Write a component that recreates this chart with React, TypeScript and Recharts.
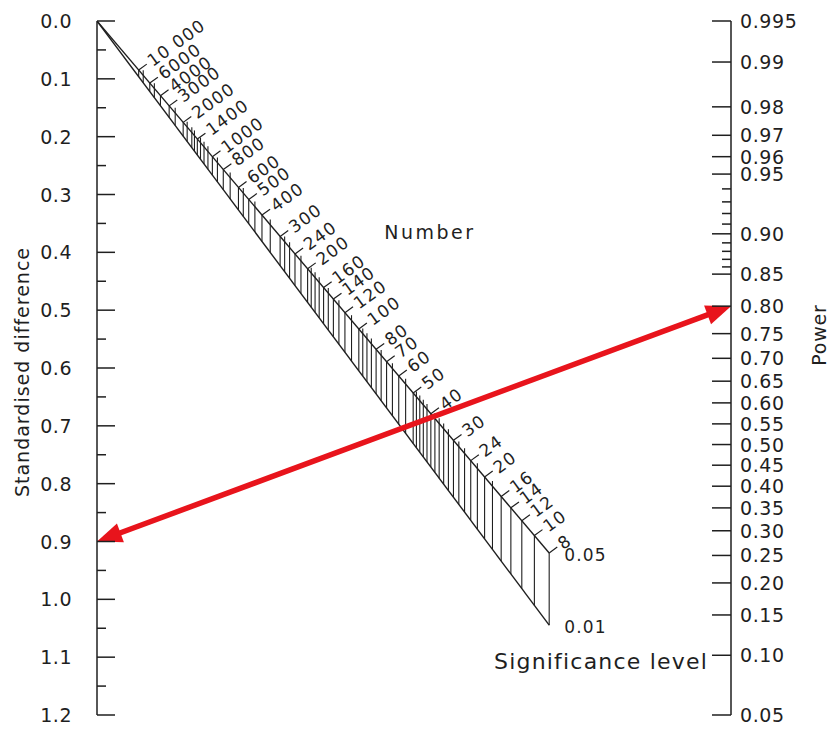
import { ComposedChart, XAxis, YAxis, Line, Scatter, ReferenceLine } from "recharts";

// ─── Data ────────────────────────────────────────────────────────────────────
// left scale: standardised difference
const DELTA_TICKS = [
  0, 0.05, 0.1, 0.15, 0.2, 0.25, 0.3, 0.35, 0.4, 0.45, 0.5, 0.55, 0.6,
  0.65, 0.7, 0.75, 0.8, 0.85, 0.9, 0.95, 1.0, 1.05, 1.1, 1.15, 1.2,
];

// right scale: power (probit spaced)
const POWER_TICKS = [
  "0.995", "0.99", "0.98", "0.97", "0.96", "0.95", "0.94", "0.93", "0.92", "0.91",
  "0.90", "0.89", "0.88", "0.87", "0.86", "0.85", "0.80", "0.75", "0.70", "0.65",
  "0.60", "0.55", "0.50", "0.45", "0.40", "0.35", "0.30", "0.25", "0.20", "0.15",
  "0.10", "0.05",
];
const POWER_MINOR = ["0.94", "0.93", "0.92", "0.91", "0.89", "0.88", "0.87", "0.86"];

// middle scale: total sample size
const N_LABELS = [
  "10 000", "6000", "4000", "3000", "2000", "1400", "1000", "800", "600", "500",
  "400", "300", "240", "200", "160", "140", "120", "100", "80", "70", "60", "50",
  "40", "30", "24", "20", "16", "14", "12", "10", "8",
];
const N_HATCH = [
  10000, 8000, 6000, 5000, 4000, 3000, 2500, 2000, 1800, 1600, 1500, 1400, 1300,
  1200, 1100, 1000, 900, 800, 700, 600, 550, 500, 450, 400, 350, 300, 280, 260,
  240, 220, 200, 190, 180, 170, 160, 150, 140, 130, 120, 110, 100, 95, 90, 85, 80,
  75, 70, 65, 60, 55, 50, 48, 46, 44, 42, 40, 38, 36, 34, 32, 30, 28, 26, 24, 22,
  20, 18, 16, 14, 12, 10, 8,
];
const ALPHA_LEVELS = ["0.05", "0.01"];
const N_MIN = 8;

// worked example drawn as the red arrow
const EXAMPLE_DELTA = 0.9;
const EXAMPLE_POWER = 0.8;

// ─── Styling ─────────────────────────────────────────────────────────────────
const INK = "#1f1f1f";
const RED = "#e8141c";
const FONT = '"DejaVu Sans", Verdana, sans-serif';

// ─── Nomogram scales ─────────────────────────────────────────────────────────
// inverse normal cdf (Acklam)
function probit(p: number): number {
  const a = [-39.69683028665376, 220.9460984245205, -275.9285104469687, 138.357751867269, -30.66479806614716, 2.506628277459239];
  const b = [-54.47609879822406, 161.5858368580409, -155.6989798598866, 66.80131188771972, -13.28068155288572];
  const c = [-0.007784894002430293, -0.3223964580411365, -2.400758277161838, -2.549732539343734, 4.374664141464968, 2.938163982698783];
  const d = [0.007784695709041462, 0.3224671290700398, 2.445134137142996, 3.754408661907416];
  const lo = 0.02425;
  if (p < lo) {
    const q = Math.sqrt(-2 * Math.log(p));
    return (((((c[0] * q + c[1]) * q + c[2]) * q + c[3]) * q + c[4]) * q + c[5]) / ((((d[0] * q + d[1]) * q + d[2]) * q + d[3]) * q + 1);
  }
  if (p > 1 - lo) {
    const q = Math.sqrt(-2 * Math.log(1 - p));
    return -(((((c[0] * q + c[1]) * q + c[2]) * q + c[3]) * q + c[4]) * q + c[5]) / ((((d[0] * q + d[1]) * q + d[2]) * q + d[3]) * q + 1);
  }
  const q = p - 0.5;
  const r = q * q;
  return ((((((a[0] * r + a[1]) * r + a[2]) * r + a[3]) * r + a[4]) * r + a[5]) * q) / (((((b[0] * r + b[1]) * r + b[2]) * r + b[3]) * r + b[4]) * r + 1);
}

const DELTA_MAX = 1.2;
const Z_TOP = probit(0.995);
const Z_BOT = probit(0.05);
const RATIO = DELTA_MAX / (Z_TOP - Z_BOT); // delta units per z unit

const zToDelta = (z: number) => (Z_TOP - z) * RATIO;
// horizontal position (0 = left scale, 1 = right scale) of a sample size
const nToX = (n: number) => 1 / (1 + (RATIO * Math.sqrt(n)) / 2);
// vertical position in delta units on the line of a significance level
const nToY = (n: number, alpha: number) => nToX(n) * RATIO * (Z_TOP + probit(1 - alpha / 2));

const POWER_BY_Z = new Map(POWER_TICKS.map((p) => [probit(Number(p)).toFixed(6), p]));
const POWER_Z_TICKS = POWER_TICKS.map((p) => probit(Number(p)));

const labelRows = N_LABELS.map((s) => {
  const n = Number(s.replace(/\s/g, ""));
  return { x: nToX(n), y: nToY(n, 0.05), label: s };
});
const labelled = new Set(labelRows.map((r) => Number(r.label.replace(/\s/g, ""))));

const edgeRows = ALPHA_LEVELS.map((a) => ({
  alpha: a,
  data: [
    { x: 0, y: 0 },
    { x: nToX(N_MIN), y: nToY(N_MIN, Number(a)) },
  ],
}));
const edgeLabels = ALPHA_LEVELS.map((a) => ({ x: nToX(N_MIN), y: nToY(N_MIN, Number(a)), label: a }));

// ─── Custom pieces ───────────────────────────────────────────────────────────
function DeltaTick({ x, y, payload }: any) {
  const v = payload.value as number;
  const major = Math.round(v * 100) % 10 === 0;
  return (
    <g>
      <line x1={x} y1={y} x2={x + (major ? 18 : 9)} y2={y} stroke={INK} strokeWidth={1.5} />
      {major && (
        <text x={x - 25} y={y} textAnchor="end" dominantBaseline="central" fontSize={19} letterSpacing={0.5} fontFamily={FONT} fill={INK}>
          {v.toFixed(1)}
        </text>
      )}
    </g>
  );
}

function PowerTick({ x, y, payload }: any) {
  const label = POWER_BY_Z.get((payload.value as number).toFixed(6)) ?? "";
  const minor = POWER_MINOR.includes(label);
  return (
    <g>
      <line x1={x} y1={y} x2={x - (minor ? 9 : 19)} y2={y} stroke={INK} strokeWidth={1.5} />
      {!minor && (
        <text x={x + 9} y={y} dominantBaseline="central" fontSize={19} letterSpacing={0.6} fontFamily={FONT} fill={INK}>
          {label}
        </text>
      )}
    </g>
  );
}

function NumberTick({ cx, cy, payload }: any) {
  return (
    <g transform={`translate(${cx},${cy}) rotate(-36)`}>
      <line x1={0} y1={0} x2={10} y2={0} stroke={INK} strokeWidth={1.2} />
      <text x={13} y={0} dominantBaseline="central" fontSize={17} letterSpacing={1.2} fontFamily={FONT} fill={INK}>
        {payload.label}
      </text>
    </g>
  );
}

function EdgeLabel({ cx, cy, payload }: any) {
  return (
    <text x={cx + 15} y={cy + 2} dominantBaseline="central" fontSize={17} letterSpacing={1.2} fontFamily={FONT} fill={INK}>
      {payload.label}
    </text>
  );
}

function Arrow({ x1, y1, x2, y2 }: any) {
  const len = Math.hypot(x2 - x1, y2 - y1);
  const ux = (x2 - x1) / len;
  const uy = (y2 - y1) / len;
  const L = 25;
  const W = 10;
  const head = (tx: number, ty: number, dir: number) => {
    const bx = tx + dir * ux * L;
    const by = ty + dir * uy * L;
    return `${tx},${ty} ${bx - uy * W},${by + ux * W} ${bx + uy * W},${by - ux * W}`;
  };
  return (
    <g>
      <line x1={x1 + ux * (L - 2)} y1={y1 + uy * (L - 2)} x2={x2 - ux * (L - 2)} y2={y2 - uy * (L - 2)} stroke={RED} strokeWidth={5.5} />
      <polygon points={head(x1, y1, 1)} fill={RED} />
      <polygon points={head(x2, y2, -1)} fill={RED} />
    </g>
  );
}

function TextMark({ cx, cy, payload }: any) {
  return (
    <text
      x={cx}
      y={cy}
      textAnchor="middle"
      dominantBaseline="central"
      fontSize={payload.size}
      letterSpacing={payload.spacing}
      fontFamily={FONT}
      fill={INK}
    >
      {payload.label}
    </text>
  );
}

// ─── Main export ─────────────────────────────────────────────────────────────
export default function App() {
  const STUB = 0.009; // small tick above the top line, delta units

  return (
    <div style={{ width: 828, height: 717, fontFamily: FONT }}>
      <ComposedChart width={828} height={717} margin={{ top: 13, right: 8, bottom: 10, left: 0 }}>
        <XAxis xAxisId={0} dataKey="x" type="number" domain={[0, 1]} allowDataOverflow hide />
        <YAxis
          yAxisId="left"
          dataKey="y"
          type="number"
          domain={[0, DELTA_MAX]}
          reversed
          allowDataOverflow
          ticks={DELTA_TICKS}
          interval={0}
          width={89}
          tickSize={0}
          tickMargin={0}
          tickLine={false}
          axisLine={{ stroke: INK, strokeWidth: 1.5 }}
          tick={<DeltaTick />}
          label={{
            value: "Standardised difference",
            content: ({ viewBox }: any) => (
              <text
                x={viewBox.x + 14}
                y={viewBox.y + viewBox.height / 2 + 4}
                transform={`rotate(-90 ${viewBox.x + 14} ${viewBox.y + viewBox.height / 2 + 4})`}
                textAnchor="middle"
                dominantBaseline="central"
                fontSize={19}
                letterSpacing={1}
                fontFamily={FONT}
                fill={INK}
              >
                Standardised difference
              </text>
            ),
          }}
        />
        <YAxis
          yAxisId="right"
          orientation="right"
          type="number"
          domain={[Z_BOT, Z_TOP]}
          allowDataOverflow
          ticks={POWER_Z_TICKS}
          interval={0}
          width={97}
          tickSize={0}
          tickMargin={0}
          tickLine={false}
          axisLine={{ stroke: INK, strokeWidth: 1.5 }}
          tick={<PowerTick />}
          label={{
            value: "Power",
            content: ({ viewBox }: any) => (
              <text
                x={viewBox.x + 88}
                y={viewBox.y + 314}
                transform={`rotate(-90 ${viewBox.x + 88} ${viewBox.y + 314})`}
                textAnchor="middle"
                dominantBaseline="central"
                fontSize={19}
                letterSpacing={0.8}
                fontFamily={FONT}
                fill={INK}
              >
                Power
              </text>
            ),
          }}
        />

        {/* hatch between the 0.05 and 0.01 lines */}
        {N_HATCH.map((n) => (
          <ReferenceLine
            key={n}
            yAxisId="left"
            segment={[
              { x: nToX(n), y: nToY(n, 0.05) - (labelled.has(n) ? 0 : STUB) },
              { x: nToX(n), y: nToY(n, 0.01) },
            ]}
            stroke={INK}
            strokeWidth={1.1}
          />
        ))}

        {edgeRows.map((e) => (
          <Line
            key={e.alpha}
            yAxisId="left"
            data={e.data}
            dataKey="y"
            type="linear"
            stroke={INK}
            strokeWidth={1.4}
            dot={false}
            isAnimationActive={false}
          />
        ))}

        <Scatter yAxisId="left" data={labelRows} shape={<NumberTick />} isAnimationActive={false} />
        <Scatter yAxisId="left" data={edgeLabels} shape={<EdgeLabel />} isAnimationActive={false} />
        <Scatter
          yAxisId="left"
          data={[
            { x: 0.525, y: 0.365, label: "Number", size: 19, spacing: 2.5 },
            { x: 0.795, y: 1.108, label: "Significance level", size: 22, spacing: 1.2 },
          ]}
          shape={<TextMark />}
          isAnimationActive={false}
        />

        <ReferenceLine
          yAxisId="left"
          segment={[
            { x: 0, y: EXAMPLE_DELTA },
            { x: 1, y: zToDelta(probit(EXAMPLE_POWER)) },
          ]}
          shape={<Arrow />}
        />
      </ComposedChart>
    </div>
  );
}
